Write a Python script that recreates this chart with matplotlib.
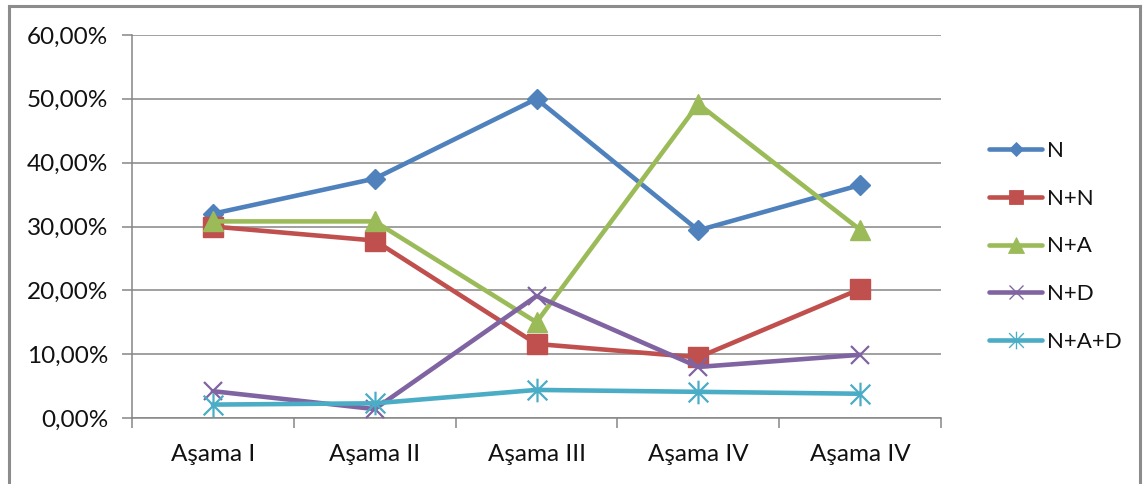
import matplotlib
matplotlib.use("Agg")
import matplotlib.pyplot as plt
from matplotlib.path import Path
from matplotlib.lines import Line2D
from matplotlib.ticker import FuncFormatter, MultipleLocator, FixedLocator

categories = ["Aşama I", "Aşama II", "Aşama III", "Aşama IV", "Aşama IV"]
n_vals = [32.0, 37.5, 50.0, 29.4, 36.5]
nn_vals = [30.0, 27.8, 11.6, 9.5, 20.2]
na_vals = [30.8, 30.8, 15.0, 49.2, 29.5]
nd_vals = [4.2, 1.4, 19.1, 8.0, 9.9]
nad_vals = [2.1, 2.3, 4.4, 4.1, 3.8]
series_names = ["N", "N+N", "N+A", "N+D", "N+A+D"]

plt.rcParams["font.family"] = ["Lato", "DejaVu Sans"]
text_color = "#111111"

# asterisk marker: an x crossed by a vertical stroke
asterisk = Path(
    [(-0.5, -0.5), (0.5, 0.5), (-0.5, 0.5), (0.5, -0.5), (0, -0.6), (0, 0.6)],
    [Path.MOVETO, Path.LINETO, Path.MOVETO, Path.LINETO, Path.MOVETO, Path.LINETO],
)

styles = [
    dict(color="#4F81BD", marker="D", ms=10),
    dict(color="#C0504D", marker="s", ms=14),
    dict(color="#9BBB59", marker="^", ms=15),
    dict(color="#8064A2", marker="x", ms=13, mew=1.6),
    dict(color="#4BACC6", marker=asterisk, ms=17, mew=1.6),
]
data = [n_vals, nn_vals, na_vals, nd_vals, nad_vals]

fig = plt.figure(figsize=(11.46, 4.84), dpi=100)
ax = fig.add_axes([132 / 1146, 1 - 418 / 484, (941 - 132) / 1146, (418 - 35) / 484])

x = list(range(len(categories)))
handles = []
for vals, name, st in zip(data, series_names, styles):
    ax.plot(x, vals, color=st["color"], lw=3.3, marker=st["marker"], ms=st["ms"],
            mew=st.get("mew", 1.0), mec=st["color"], mfc=st["color"],
            solid_capstyle="round", solid_joinstyle="round", zorder=3)
    handles.append(Line2D([], [], color=st["color"], lw=3.3, marker=st["marker"],
                          ms=st["ms"] * 0.75, mew=st.get("mew", 1.0) * 0.6,
                          mec=st["color"], mfc=st["color"],
                          solid_capstyle="round", label=name))

ax.set_xlim(-0.5, len(categories) - 0.5)
ax.set_ylim(0, 60)
ax.yaxis.set_major_locator(MultipleLocator(10))
ax.yaxis.set_major_formatter(FuncFormatter(lambda v, p: f"{v:.2f}".replace(".", ",") + "%"))
ax.grid(axis="y", color="#868686", lw=1.1, zorder=0)
ax.set_xticks(x)
ax.set_xticklabels(categories)
ax.xaxis.set_minor_locator(FixedLocator([i + 0.5 for i in range(-1, len(categories))]))
ax.tick_params(axis="x", which="major", length=0, pad=19, labelsize=17.5, labelcolor=text_color)
ax.tick_params(axis="x", which="minor", length=7, width=1.1, color="#868686")
ax.tick_params(axis="y", length=7, width=1.1, color="#868686", labelsize=17.5,
               labelcolor=text_color, pad=10)
for s in ["top", "right"]:
    ax.spines[s].set_visible(False)
for s in ["left", "bottom"]:
    ax.spines[s].set_color("#868686")
    ax.spines[s].set_linewidth(1.1)

leg = fig.legend(handles=handles, loc="upper left", bbox_to_anchor=(980 / 1146, 1 - 132 / 484),
                 frameon=False, fontsize=16, handlelength=2.4, handletextpad=0.2,
                 labelspacing=1.25, borderaxespad=0, labelcolor=text_color)

# outer chart frame
frame_color = "#8c8c8c"
fig.add_artist(Line2D([9 / 1146, 9 / 1146], [-0.05, 1 - 6 / 484], color=frame_color, lw=2.2,
                      transform=fig.transFigure))
fig.add_artist(Line2D([9 / 1146, 1140 / 1146], [1 - 6 / 484, 1 - 6 / 484], color=frame_color,
                      lw=2.2, transform=fig.transFigure))
fig.add_artist(Line2D([1140 / 1146, 1140 / 1146], [-0.05, 1 - 6 / 484], color=frame_color,
                      lw=2.2, transform=fig.transFigure))

fig.savefig("out.png", dpi=100)
